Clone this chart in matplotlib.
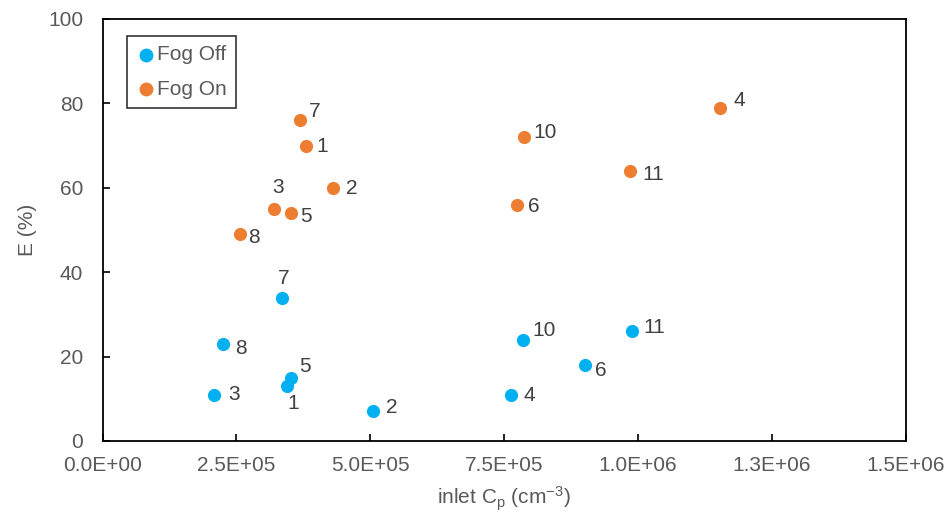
import matplotlib.pyplot as plt
from matplotlib.ticker import FixedLocator

plt.rcParams['font.family'] = ['Liberation Sans', 'DejaVu Sans']
plt.rcParams['mathtext.default'] = 'regular'

# run numbers, inlet particle concentration (cm-3) and efficiency (%)
runs_off = ['1', '2', '3', '4', '5', '6', '7', '8', '10', '11']
cp_off = [3.44e5, 5.05e5, 2.09e5, 7.64e5, 3.52e5, 9.01e5, 3.35e5, 2.26e5, 7.86e5, 9.89e5]
e_off = [13, 7, 11, 11, 15, 18, 34, 23, 24, 26]

runs_on = ['1', '2', '3', '4', '5', '6', '7', '8', '10', '11']
cp_on = [3.80e5, 4.31e5, 3.20e5, 1.154e6, 3.53e5, 7.74e5, 3.68e5, 2.57e5, 7.88e5, 9.85e5]
e_on = [70, 60, 55, 79, 54, 56, 76, 49, 72, 64]

xticks = [0, 2.5e5, 5e5, 7.5e5, 1e6, 1.25e6, 1.5e6]
xtick_labels = ['0.0E+00', '2.5E+05', '5.0E+05', '7.5E+05', '1.0E+06', '1.3E+06', '1.5E+06']

# label offsets (pixels, right/up) for each run label
off_offsets = [(7, -17), (19, 4), (20, 0), (18, -1), (14, 11), (16, -5), (2, 19), (17, -5), (21, 9), (22, 4)]
on_offsets = [(16, -1), (19, -1), (4, 21), (19, 7), (14, -3), (17, -2), (15, 9), (14, -3), (21, 5), (23, -4)]

blue = '#00B0F0'
orange = '#ED7D31'
txt = '#404040'
grey = '#595959'

fig = plt.figure(figsize=(9.52, 5.19), dpi=100)
ax = fig.add_axes([102.5 / 952, 78 / 519, 803 / 952, 422 / 519])

ax.scatter(cp_off, e_off, s=90, color=blue, label='Fog Off', zorder=3, linewidths=0)
ax.scatter(cp_on, e_on, s=90, color=orange, label='Fog On', zorder=3, linewidths=0)

for r, x, y, (dx, dy) in zip(runs_off, cp_off, e_off, off_offsets):
    ax.annotate(r, (x, y), xytext=(dx * 0.72, dy * 0.72), textcoords='offset points',
                ha='center', va='center', fontsize=15, color=txt)
for r, x, y, (dx, dy) in zip(runs_on, cp_on, e_on, on_offsets):
    ax.annotate(r, (x, y), xytext=(dx * 0.72, dy * 0.72), textcoords='offset points',
                ha='center', va='center', fontsize=15, color=txt)

ax.set_xlim(0, 1.5e6)
ax.set_ylim(0, 100)
ax.xaxis.set_major_locator(FixedLocator(xticks))
ax.set_xticklabels(xtick_labels)
ax.set_yticks([0, 20, 40, 60, 80, 100])

ax.tick_params(direction='in', length=5, width=1.2, labelsize=15, labelcolor=grey)
ax.tick_params(axis='y', pad=14)
ax.tick_params(axis='x', pad=11)
for s in ax.spines.values():
    s.set_linewidth(1.3)
    s.set_color('black')

ax.set_xlabel('inlet C$_p$ (cm$^{-3}$)', fontsize=15, color=grey, labelpad=7)
ax.set_ylabel('E (%)', fontsize=15, color=grey, labelpad=8)

leg = ax.legend(loc='upper left', bbox_to_anchor=(0.03, 0.96), fontsize=15, frameon=True,
                fancybox=False, edgecolor='black', handletextpad=0.0, borderpad=0.45,
                labelspacing=0.75, handlelength=1.0, borderaxespad=0, markerscale=1.05)
leg.get_frame().set_linewidth(1.2)
for t in leg.get_texts():
    t.set_color(grey)

fig.savefig('out.png', dpi=100)
